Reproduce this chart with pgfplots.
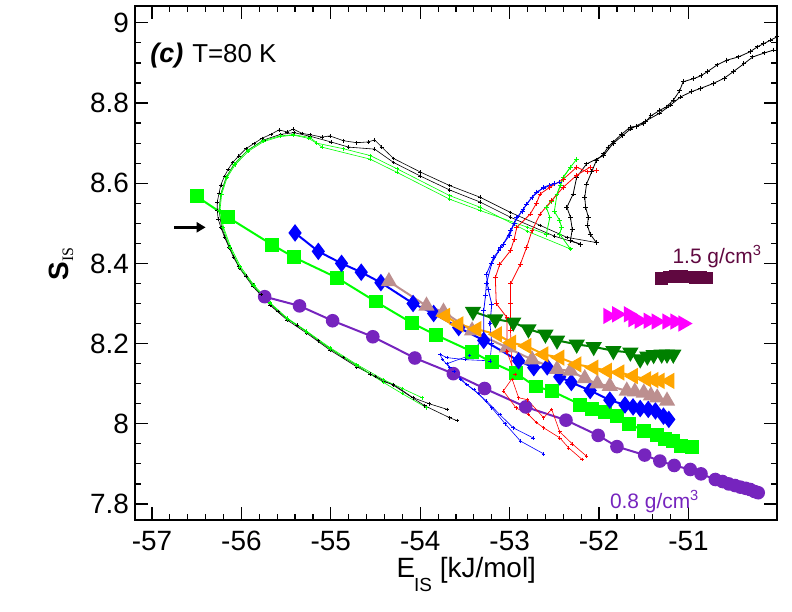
\documentclass[border=0pt]{standalone}
\usepackage{fontspec}
\setmainfont{Liberation Sans}
\newfontfamily\serifrm{Liberation Serif}
\usepackage{pgfplots}
\pgfplotsset{compat=1.18}
\usetikzlibrary{arrows.meta}
\definecolor{lime}{RGB}{0,255,0}
\definecolor{pblue}{RGB}{0,0,255}
\definecolor{ppurple}{RGB}{118,36,190}
\definecolor{ptan}{RGB}{188,143,143}
\definecolor{porange}{RGB}{255,165,0}
\definecolor{pdgreen}{RGB}{0,128,0}
\definecolor{pmag}{RGB}{255,0,255}
\definecolor{pmaroon}{RGB}{96,8,64}
\definecolor{pred}{RGB}{255,0,0}
\begin{document}
\begin{tikzpicture}
\useasboundingbox (-135bp,-92bp) rectangle (657bp,520bp);
\begin{axis}[
  at={(0,0)}, anchor=south west, scale only axis,
  width=642bp, height=514bp,
  xmin=-57.19, xmax=-50.01, ymin=7.76, ymax=9.042,
  xtick={-57,-56,-55,-54,-53,-52,-51},
  xticklabels={-57,-56,-55,-54,-53,-52,-51},
  ytick={7.8,8,8.2,8.4,8.6,8.8,9},
  yticklabels={7.8,8,8.2,8.4,8.6,8.8,9},
  minor x tick num=4, minor y tick num=3,
  tick align=inside, major tick length=13bp, minor tick length=6bp,
  axis line style={line width=1.5bp},
  every tick/.append style={black, line width=1.2bp},
  tick label style={font=\fontsize{28}{30}\selectfont, inner sep=0pt},
  xticklabel style={yshift=-11bp},
  yticklabel style={xshift=-6bp},
  every axis x label/.style={at={(rel axis cs:0.516,0)}, yshift=-57bp, anchor=base, inner sep=0pt},
  every axis y label/.style={at={(rel axis cs:-0.1153,0.498)}, rotate=90, anchor=center, inner sep=0pt},
  xlabel={\fontsize{28}{29}\selectfont E\kern-1bp\raisebox{-14bp}{\fontsize{19}{19}\selectfont IS}\ [kJ/mol]},
  ylabel={\fontsize{28}{28}\selectfont\bfseries S\raisebox{-5bp}{\fontsize{16}{16}\selectfont\mdseries\serifrm IS}},
  thin/.style={line width=0.6bp, mark=+, mark size=1.8},
  bundle/.style={line width=0.8bp, mark=+, mark size=2.4, mark options={line width=1bp}},
]
% ---- purple circles (0.8 g/cm3)
\addplot[color=ppurple, line width=2bp, mark=*, mark size=5.8] coordinates {
(-55.74,8.317) (-55.35,8.294) (-54.98,8.257) (-54.53,8.217) (-54.06,8.164)
(-53.63,8.125) (-53.28,8.088) (-52.82,8.042) (-52.37,8.009) (-52.01,7.971)
(-51.80,7.943) (-51.49,7.922) (-51.32,7.907) (-51.16,7.896) (-50.98,7.886)
(-50.86,7.875) (-50.70,7.861) (-50.62,7.856) (-50.55,7.850) (-50.48,7.846)
(-50.42,7.842) (-50.36,7.839) (-50.31,7.836) (-50.26,7.831) (-50.22,7.828)};
% ---- lime squares
\addplot[color=lime, line width=2bp, mark=square*, mark size=6] coordinates {
(-56.50,8.567) (-56.15,8.515) (-55.66,8.447) (-55.41,8.415) (-54.93,8.364)
(-54.50,8.305) (-54.09,8.251) (-53.82,8.221) (-53.42,8.180) (-53.20,8.153)
(-52.93,8.126) (-52.71,8.093) (-52.53,8.082) (-52.21,8.048) (-52.08,8.037)
(-51.93,8.029) (-51.80,8.019) (-51.66,8.000) (-51.50,7.982) (-51.35,7.973)
(-51.26,7.963) (-51.17,7.957) (-51.08,7.944) (-50.96,7.943)};
% ---- blue diamonds
\addplot[color=pblue, line width=2bp, mark=diamond*, mark size=7.2] coordinates {
(-55.40,8.476) (-55.14,8.430) (-54.88,8.400) (-54.66,8.378) (-54.44,8.352)
(-54.08,8.300) (-53.85,8.275) (-53.57,8.240) (-53.29,8.208) (-52.90,8.157)
(-52.73,8.140) (-52.58,8.142) (-52.44,8.117) (-52.31,8.103) (-52.10,8.083)
(-51.88,8.059) (-51.71,8.047) (-51.62,8.042) (-51.54,8.038) (-51.45,8.036)
(-51.37,8.032) (-51.28,8.019) (-51.22,8.011)};
% ---- tan triangles up
\addplot[color=ptan, line width=2bp, mark=triangle*, mark size=7.5] coordinates {
(-54.35,8.355) (-53.93,8.294) (-53.74,8.279) (-53.42,8.232) (-53.03,8.190)
(-52.75,8.160) (-52.47,8.136) (-52.32,8.132) (-52.16,8.113) (-52.02,8.100)
(-51.88,8.094) (-51.69,8.082) (-51.60,8.080) (-51.50,8.077) (-51.42,8.070)
(-51.35,8.065) (-51.24,8.057)};
% ---- orange triangles left
\addplot[color=porange, line width=2bp, mark=triangle*, mark size=7.5, mark options={rotate=90}] coordinates {
(-53.72,8.269) (-53.57,8.248) (-53.37,8.236) (-53.14,8.223) (-52.98,8.202)
(-52.81,8.194) (-52.62,8.173) (-52.44,8.165) (-52.25,8.148) (-52.06,8.140)
(-51.91,8.132) (-51.77,8.128) (-51.62,8.119) (-51.47,8.111) (-51.39,8.109)
(-51.32,8.107) (-51.21,8.107)};
% ---- dark green triangles down
\addplot[color=pdgreen, line width=2bp, mark=triangle*, mark size=7.5, mark options={rotate=180}] coordinates {
(-53.41,8.280) (-53.16,8.261) (-52.96,8.253) (-52.79,8.236) (-52.60,8.223)
(-52.47,8.208) (-52.25,8.198) (-52.06,8.192) (-51.84,8.182) (-51.65,8.178)
(-51.54,8.161) (-51.46,8.168) (-51.39,8.172) (-51.30,8.173) (-51.24,8.173)
(-51.17,8.173)};
% ---- magenta triangles right
\addplot[color=pmag, line width=2bp, mark=triangle*, mark size=7.5, mark options={rotate=-90}] coordinates {
(-51.90,8.269) (-51.80,8.273) (-51.67,8.273) (-51.62,8.261) (-51.55,8.257)
(-51.45,8.257) (-51.36,8.255) (-51.24,8.255) (-51.15,8.255) (-51.06,8.250)};
% ---- maroon squares (1.5 g/cm3)
\addplot[color=pmaroon, line width=2bp, mark=square*, mark size=5.2] coordinates {
(-51.30,8.362) (-51.22,8.366) (-51.15,8.369) (-51.08,8.367) (-51.00,8.366)
(-50.93,8.365) (-50.86,8.366) (-50.80,8.364)};
% ---- thin black curves
\addplot[color=black, thin] coordinates {
(-53.70,8.036) (-53.90,8.050) (-54.08,8.065) (-54.30,8.098) (-54.41,8.105)
(-54.56,8.124) (-54.71,8.146) (-54.86,8.165) (-55.01,8.188) (-55.14,8.207)
(-55.27,8.230) (-55.38,8.246) (-55.49,8.263) (-55.59,8.280) (-55.68,8.300)
(-55.78,8.322) (-55.87,8.346) (-55.95,8.369) (-56.03,8.392) (-56.09,8.416)
(-56.14,8.441) (-56.19,8.466) (-56.23,8.490) (-56.26,8.511) (-56.27,8.532)
(-56.27,8.553) (-56.25,8.575) (-56.23,8.596) (-56.19,8.617) (-56.15,8.634)
(-56.10,8.651) (-56.03,8.668) (-55.95,8.686) (-55.86,8.699) (-55.77,8.712)
(-55.67,8.722) (-55.58,8.733) (-55.49,8.728) (-55.42,8.735) (-55.32,8.724)
(-55.23,8.721) (-55.10,8.715) (-55.01,8.718) (-54.86,8.706) (-54.71,8.701)
(-54.58,8.703) (-54.51,8.708) (-54.43,8.690) (-54.30,8.662) (-54.00,8.628)
(-53.67,8.594) (-53.33,8.565) (-52.99,8.527) (-52.66,8.495) (-52.36,8.465)
(-52.03,8.452)};
\addplot[color=black, bundle] coordinates {
(-52.03,8.452) (-52.10,8.473) (-52.13,8.495) (-52.12,8.515) (-52.15,8.540)
(-52.16,8.565) (-52.14,8.598) (-52.08,8.630) (-52.03,8.657) (-51.95,8.673)
(-51.90,8.690) (-51.84,8.703) (-51.75,8.722) (-51.65,8.740) (-51.58,8.742)
(-51.50,8.748) (-51.42,8.768) (-51.32,8.782) (-51.25,8.790) (-51.17,8.807)
(-51.10,8.830) (-51.06,8.853) (-50.94,8.861) (-50.86,8.868) (-50.79,8.878)
(-50.68,8.895) (-50.57,8.907) (-50.44,8.915) (-50.31,8.928) (-50.23,8.940)
(-50.16,8.948) (-50.08,8.957) (-50.01,8.965)};
\addplot[color=black, thin] coordinates {
(-53.59,8.008) (-53.67,8.015) (-53.95,8.045) (-54.30,8.096) (-54.50,8.118)
(-54.71,8.142) (-55.01,8.184) (-55.27,8.226) (-55.49,8.259) (-55.68,8.296)
(-55.87,8.342) (-56.02,8.388) (-56.13,8.438) (-56.22,8.488) (-56.25,8.532)
(-56.23,8.573) (-56.17,8.615) (-56.08,8.648) (-55.93,8.682) (-55.75,8.708)
(-55.56,8.722) (-55.41,8.726) (-55.23,8.717) (-55.00,8.703) (-54.80,8.690)
(-54.51,8.685) (-54.30,8.652) (-54.00,8.618) (-53.67,8.583) (-53.33,8.553)
(-52.99,8.515) (-52.50,8.468) (-52.21,8.448)};
\addplot[color=black, bundle] coordinates {
(-52.21,8.448) (-52.32,8.457) (-52.30,8.485) (-52.32,8.515) (-52.36,8.540)
(-52.29,8.573) (-52.25,8.615) (-52.14,8.648) (-51.95,8.669) (-51.84,8.700)
(-51.74,8.718) (-51.65,8.735) (-51.48,8.755) (-51.32,8.775) (-51.20,8.795)
(-51.09,8.815) (-50.97,8.828) (-50.87,8.836) (-50.72,8.849) (-50.60,8.862)
(-50.50,8.878) (-50.38,8.898) (-50.28,8.915) (-50.15,8.925) (-50.05,8.932)};
% ---- thin lime curves
\addplot[color=lime, thin] coordinates {
(-53.98,8.065) (-54.20,8.088) (-54.41,8.110) (-54.71,8.148) (-55.01,8.190)
(-55.27,8.231) (-55.49,8.264) (-55.68,8.302) (-55.86,8.346) (-56.01,8.392)
(-56.12,8.441) (-56.20,8.490) (-56.24,8.532) (-56.22,8.573) (-56.16,8.614)
(-56.07,8.646) (-55.92,8.680) (-55.75,8.704) (-55.57,8.716) (-55.42,8.720)
(-55.25,8.712) (-55.16,8.700) (-54.86,8.686) (-54.56,8.669) (-54.26,8.636)
(-53.67,8.569) (-53.33,8.540) (-52.80,8.480) (-52.32,8.436)};
\addplot[color=lime, bundle] coordinates {
(-52.32,8.436) (-52.44,8.473) (-52.42,8.490) (-52.44,8.507) (-52.50,8.530)
(-52.47,8.573) (-52.43,8.595) (-52.40,8.615) (-52.32,8.640)};
\addplot[color=lime, thin] coordinates {
(-53.93,8.040) (-54.20,8.075) (-54.41,8.103) (-54.71,8.145) (-55.01,8.187)
(-55.27,8.229) (-55.49,8.262) (-55.68,8.300) (-55.87,8.345) (-56.02,8.390)
(-56.13,8.440) (-56.21,8.490) (-56.25,8.532) (-56.23,8.573) (-56.17,8.615)
(-56.08,8.648) (-55.93,8.682) (-55.76,8.706) (-55.57,8.718) (-55.42,8.721)
(-55.23,8.714) (-55.10,8.690) (-54.56,8.660) (-54.26,8.627) (-53.67,8.560)
(-53.33,8.532) (-52.80,8.490) (-52.59,8.473)};
\addplot[color=lime, bundle] coordinates {
(-52.59,8.473) (-52.55,8.515) (-52.59,8.540) (-52.53,8.555) (-52.47,8.573)
(-52.40,8.615) (-52.32,8.640) (-52.25,8.660)};
% ---- thin blue curves
\addplot[color=pblue, thin] coordinates {
(-52.74,7.965) (-52.96,7.990) (-53.11,8.023) (-53.26,8.057) (-53.40,8.085)
(-53.48,8.098) (-53.62,8.130) (-53.67,8.140) (-53.75,8.160) (-53.78,8.173)
(-53.70,8.165) (-53.50,8.160) (-53.22,8.157) (-53.20,8.200) (-53.22,8.250)};
\addplot[color=pblue, bundle] coordinates {
(-53.22,8.250) (-53.20,8.298) (-53.24,8.335) (-53.26,8.373) (-53.18,8.415)
(-53.12,8.432) (-53.07,8.448) (-52.99,8.482) (-52.92,8.515) (-52.86,8.530)
(-52.81,8.548) (-52.75,8.565) (-52.70,8.578) (-52.62,8.588) (-52.55,8.594)
(-52.44,8.603)};
\addplot[color=pblue, thin] coordinates {
(-52.62,7.925) (-52.88,7.957) (-53.05,8.000) (-53.20,8.040) (-53.35,8.075)
(-53.55,8.110) (-53.70,8.150) (-53.45,8.170) (-53.29,8.215)};
\addplot[color=pblue, bundle] coordinates {
(-53.29,8.215) (-53.29,8.282) (-53.27,8.320) (-53.26,8.350) (-53.20,8.400)
(-53.10,8.440) (-53.00,8.470) (-52.95,8.500) (-52.85,8.535) (-52.75,8.565)
(-52.62,8.590) (-52.50,8.600)};
% ---- thin red curves
\addplot[color=pred, thin] coordinates {
(-52.19,7.911) (-52.34,7.940) (-52.44,7.965) (-52.62,7.990) (-52.70,8.003)
(-52.79,8.023) (-52.93,8.040) (-53.07,8.082) (-52.94,8.123) (-53.03,8.180)};
\addplot[color=pred, bundle] coordinates {
(-53.03,8.180) (-53.03,8.265) (-53.15,8.300) (-53.16,8.365) (-53.11,8.398)
(-52.99,8.432) (-52.95,8.460) (-52.92,8.490) (-52.77,8.523) (-52.70,8.550)
(-52.66,8.573) (-52.55,8.590) (-52.40,8.610) (-52.25,8.640) (-52.13,8.628)
(-52.03,8.632)};
\addplot[color=pred, thin] coordinates {
(-52.14,7.919) (-52.30,7.950) (-52.44,7.980) (-52.53,8.036) (-52.62,8.015)
(-52.80,8.060) (-52.90,8.065) (-52.97,8.110) (-52.99,8.232)};
\addplot[color=pred, bundle] coordinates {
(-52.99,8.232) (-52.99,8.300) (-52.99,8.349) (-52.88,8.398) (-52.81,8.440)
(-52.75,8.482) (-52.66,8.523) (-52.53,8.557) (-52.40,8.590) (-52.25,8.620)
(-52.10,8.640)};
% ---- annotations
\draw[black, line width=3bp, -{Triangle[length=9bp,width=10bp]}] (axis cs:-56.75,8.49) -- (axis cs:-56.40,8.49);
\node[anchor=base west, inner sep=0pt] at (axis cs:-57.02,8.902)
  {{\fontsize{27}{28}\selectfont\bfseries\itshape (c)}\hspace{9bp}{\fontsize{26}{28}\selectfont T=80 K}};
\node[anchor=base west, inner sep=0pt, text=pmaroon] at (axis cs:-51.18,8.400)
  {\fontsize{21}{22}\selectfont 1.5 g/cm\textsuperscript{3}};
\node[anchor=base west, inner sep=0pt, text=ppurple] at (axis cs:-51.88,7.789)
  {\fontsize{21}{22}\selectfont 0.8 g/cm\textsuperscript{3}};
\end{axis}
\end{tikzpicture}
\end{document}
